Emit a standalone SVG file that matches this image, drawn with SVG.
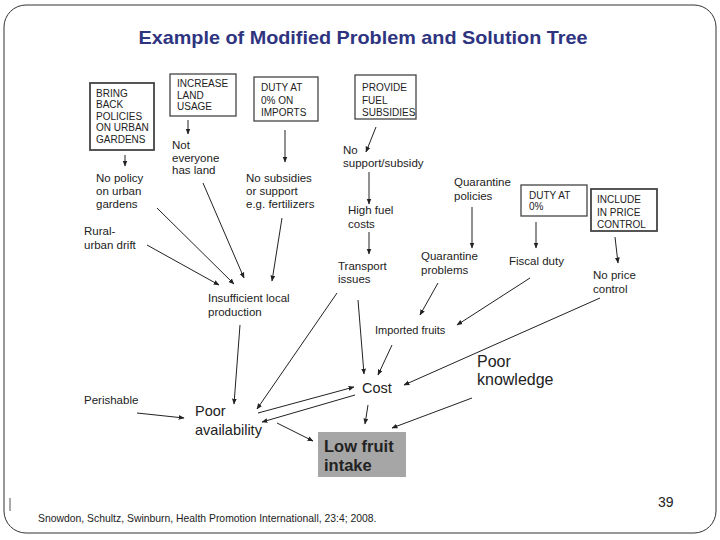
<svg xmlns="http://www.w3.org/2000/svg" width="720" height="540" viewBox="0 0 720 540">
<defs>
<marker id="ah" viewBox="0 0 10 10" refX="9" refY="5" markerWidth="6" markerHeight="6" orient="auto" markerUnits="userSpaceOnUse">
<path d="M0,1 L10,5 L0,9 z" fill="#222"/>
</marker>
<style>
text{font-family:"Liberation Sans",Arial,sans-serif;fill:#222}
.t{font-size:11.5px}
.b{font-size:10px}
.m{font-size:14.5px}
.box{fill:#fff;stroke:#444;stroke-width:1.3}
.c line,.c path{stroke:#222;stroke-width:1;fill:none;marker-end:url(#ah)}
</style>
</defs>
<rect x="0" y="0" width="720" height="540" fill="#fff"/>
<rect x="4" y="5" width="712" height="528" rx="22" fill="none" stroke="#333" stroke-width="1"/>
<line x1="10" y1="498" x2="10" y2="511" stroke="#555" stroke-width="1"/>
<text x="363" y="44" text-anchor="middle" font-size="18.5" font-weight="bold" style="fill:#2e3480" textLength="449" lengthAdjust="spacingAndGlyphs">Example of Modified Problem and Solution Tree</text>

<g id="n_bring"><rect class="box" x="90" y="83" width="64" height="67" style="stroke-width:1.8"/>
<text class="b" x="96" y="97">BRING</text><text class="b" x="96" y="108">BACK</text><text class="b" x="96" y="120">POLICIES</text><text class="b" x="96" y="131">ON URBAN</text><text class="b" x="96" y="143">GARDENS</text></g>
<g id="n_increase"><rect class="box" x="170" y="74" width="66" height="42"/>
<text class="b" x="177" y="87">INCREASE</text><text class="b" x="177" y="99">LAND</text><text class="b" x="177" y="110">USAGE</text></g>
<g id="n_duty_imports"><rect class="box" x="254" y="77" width="64" height="44"/>
<text class="b" x="261" y="91">DUTY AT</text><text class="b" x="261" y="104">0% ON</text><text class="b" x="261" y="116">IMPORTS</text></g>
<g id="n_fuel"><rect class="box" x="355" y="75" width="61" height="44"/>
<text class="b" x="362" y="91">PROVIDE</text><text class="b" x="362" y="104">FUEL</text><text class="b" x="362" y="116">SUBSIDIES</text></g>
<g id="n_duty0"><rect class="box" x="521" y="185" width="66" height="31"/>
<text class="b" x="529" y="199">DUTY AT</text><text class="b" x="529" y="210">0%</text></g>
<g id="n_include"><rect class="box" x="591" y="189" width="66" height="42" style="stroke-width:1.8"/>
<text class="b" x="597" y="203">INCLUDE</text><text class="b" x="597" y="216">IN PRICE</text><text class="b" x="597" y="228">CONTROL</text></g>

<g id="n_notland"><text class="t" x="172" y="149">Not</text><text class="t" x="172" y="162">everyone</text><text class="t" x="172" y="174">has land</text></g>
<g id="n_nopolicy"><text class="t" x="96" y="182">No policy</text><text class="t" x="96" y="195">on urban</text><text class="t" x="96" y="208">gardens</text></g>
<g id="n_nosubs"><text class="t" x="246" y="182">No subsidies</text><text class="t" x="246" y="195">or support</text><text class="t" x="246" y="208">e.g. fertilizers</text></g>
<g id="n_nosupport"><text class="t" x="343" y="154">No</text><text class="t" x="343" y="167">support/subsidy</text></g>
<g id="n_highfuel"><text class="t" x="348" y="214">High fuel</text><text class="t" x="348" y="228">costs</text></g>
<g id="n_transport"><text class="t" x="338" y="270">Transport</text><text class="t" x="338" y="283">issues</text></g>
<g id="n_qpol"><text class="t" x="454" y="186">Quarantine</text><text class="t" x="454" y="200">policies</text></g>
<g id="n_qprob"><text class="t" x="421" y="260">Quarantine</text><text class="t" x="421" y="274">problems</text></g>
<g id="n_fiscal"><text class="t" x="509" y="265">Fiscal duty</text></g>
<g id="n_noprice"><text class="t" x="593" y="279">No price</text><text class="t" x="593" y="293">control</text></g>
<g id="n_rural"><text class="t" x="84" y="235">Rural-</text><text class="t" x="84" y="249">urban drift</text></g>
<g id="n_insuff"><text class="t" x="208" y="302">Insufficient local</text><text class="t" x="208" y="316">production</text></g>
<g id="n_imported"><text x="375" y="334" font-size="11">Imported fruits</text></g>
<g id="n_perish"><text class="t" x="84" y="404">Perishable</text></g>
<g id="n_poor"><text class="m" x="195" y="416">Poor</text><text class="m" x="195" y="435">availability</text></g>
<g id="n_cost"><text class="m" x="362" y="393">Cost</text></g>
<g id="n_knowledge"><text x="477" y="367" font-size="16">Poor</text><text x="477" y="385" font-size="16">knowledge</text></g>
<g id="n_low"><rect x="318" y="432" width="88" height="45" fill="#a6a6a6"/>
<text x="324" y="452" font-size="16.5" font-weight="bold">Low fruit</text><text x="324" y="471" font-size="16.5" font-weight="bold">intake</text></g>

<g id="connectors" class="c">
<line x1="125" y1="155" x2="125" y2="166"/>
<line x1="188" y1="120" x2="188" y2="134"/>
<line x1="285" y1="130" x2="285" y2="162"/>
<line x1="376" y1="127" x2="366" y2="152"/>
<line x1="369" y1="172" x2="369" y2="204"/>
<line x1="369" y1="232" x2="369" y2="254"/>
<line x1="472" y1="207" x2="472" y2="248"/>
<line x1="536" y1="222" x2="536" y2="248"/>
<line x1="615" y1="237" x2="618" y2="263"/>
<line x1="147" y1="245" x2="219" y2="285"/>
<line x1="157" y1="208" x2="234" y2="284"/>
<line x1="203" y1="183" x2="244" y2="278"/>
<line x1="282" y1="218" x2="272" y2="281"/>
<line x1="240" y1="325" x2="234" y2="404"/>
<line x1="137" y1="413" x2="184" y2="418"/>
<line x1="337" y1="293" x2="257" y2="409"/>
<line x1="358" y1="300" x2="364" y2="374"/>
<line x1="438" y1="283" x2="420" y2="315"/>
<line x1="530" y1="278" x2="457" y2="325"/>
<line x1="392" y1="345" x2="378" y2="375"/>
<line x1="600" y1="298" x2="404" y2="385"/>
<line x1="258" y1="413" x2="354" y2="387"/>
<line x1="355" y1="395" x2="262" y2="422"/>
<line x1="368" y1="405" x2="365" y2="424"/>
<line x1="472" y1="398" x2="392" y2="428"/>
<line x1="277" y1="423" x2="313" y2="441"/>
</g>

<text x="658" y="507" font-size="14">39</text>
<text x="38" y="522" font-size="10.4">Snowdon, Schultz, Swinburn, Health Promotion Internationall, 23:4; 2008.</text>
</svg>
